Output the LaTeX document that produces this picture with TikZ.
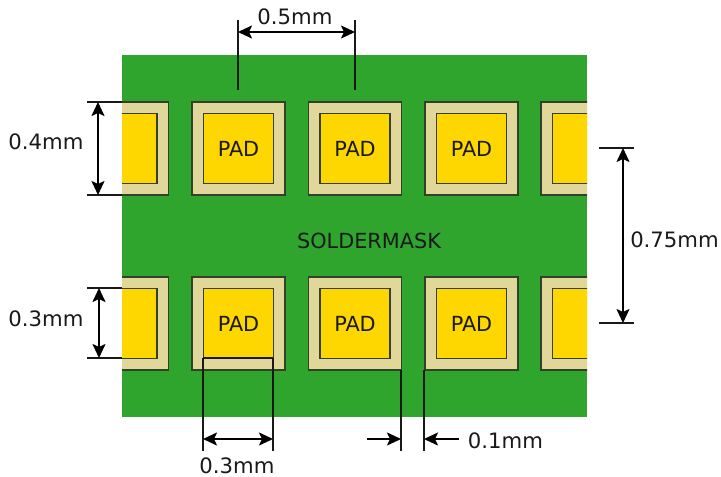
\documentclass[tikz,border=0pt]{standalone}
\usepackage{fontspec}
\setmainfont{DejaVu Sans}
\usetikzlibrary{arrows.meta}
\definecolor{boardgreen}{HTML}{2FA52E}
\definecolor{masktan}{HTML}{E2D79B}
\definecolor{padgold}{HTML}{FFD700}
\definecolor{edgedark}{HTML}{33402A}
\tikzset{
  outerpad/.style={draw=edgedark,line width=1.4pt,fill=masktan,minimum size=93pt,inner sep=0pt,outer sep=0pt},
  innerpad/.style={draw=edgedark,line width=1.4pt,fill=padgold,minimum size=70pt,inner sep=0pt,outer sep=0pt},
  dimtext/.style={font=\fontsize{21.2}{24}\selectfont,text=black!90,inner sep=0pt},
  padtext/.style={font=\fontsize{20.8}{24}\selectfont,text=black!90,inner sep=0pt},
  extline/.style={draw=black!90,line width=1.9pt},
  dimline/.style={draw=black,line width=1.9pt,{Stealth[length=14pt,width=13pt,inset=3pt]}-{Stealth[length=14pt,width=13pt,inset=3pt]}},
  onearrow/.style={draw=black,line width=1.9pt,-{Stealth[length=14pt,width=13pt,inset=3pt]}},
}
\begin{document}
\begin{tikzpicture}[x=1pt,y=-1pt]
\useasboundingbox (0,0) rectangle (721,477);
\node[fill=boardgreen,minimum width=465pt,minimum height=362pt,inner sep=0pt,outer sep=0pt] (board) at (354.5,236) {};
\begin{scope}
\clip (122,55) rectangle (587,417);
\foreach \n/\x in {a/122,b/238.5,c/355,d/471.5,e/587.5}{
  \node[outerpad] (o1\n) at (\x,148.5) {};
  \node[innerpad] (i1\n) at (\x,148.5) {};
  \node[outerpad] (o2\n) at (\x,323.5) {};
  \node[innerpad] (i2\n) at (\x,323.5) {};
}
\end{scope}
\foreach \n in {b,c,d}{
  \node[padtext] at (i1\n) {PAD};
  \node[padtext] at (i2\n) {PAD};
}
\node[padtext] (mask) at (369,240.5) {SOLDERMASK};
% 0.5mm
\coordinate (t1a) at (238,20); \coordinate (t1b) at (238,90);
\coordinate (t2a) at (355,20); \coordinate (t2b) at (355,90);
\coordinate (p1) at (238,32); \coordinate (p2) at (355,32);
\draw[extline] (t1a) -- (t1b);
\draw[extline] (t2a) -- (t2b);
\draw[dimline] (p1) -- (p2);
\node[dimtext] (l05) at (295,17) {0.5mm};
% 0.4mm
\coordinate (u1a) at (87,102); \coordinate (u1b) at (122,102);
\coordinate (u2a) at (87,195); \coordinate (u2b) at (122,195);
\coordinate (q1) at (98,102); \coordinate (q2) at (98,195);
\draw[extline] (u1a) -- (u1b);
\draw[extline] (u2a) -- (u2b);
\draw[dimline] (q1) -- (q2);
\node[dimtext] (l04) at (46,142) {0.4mm};
% 0.3mm left
\coordinate (v1a) at (87,288); \coordinate (v1b) at (122,288);
\coordinate (v2a) at (87,358); \coordinate (v2b) at (122,358);
\coordinate (r1) at (99,288); \coordinate (r2) at (99,358);
\draw[extline] (v1a) -- (v1b);
\draw[extline] (v2a) -- (v2b);
\draw[dimline] (r1) -- (r2);
\node[dimtext] (l03a) at (46,319) {0.3mm};
% 0.75mm
\coordinate (w1a) at (599,148); \coordinate (w1b) at (634,148);
\coordinate (w2a) at (599,323); \coordinate (w2b) at (634,323);
\coordinate (s1) at (623,148); \coordinate (s2) at (623,323);
\draw[extline] (w1a) -- (w1b);
\draw[extline] (w2a) -- (w2b);
\draw[dimline] (s1) -- (s2);
\node[dimtext] (l075) at (674.5,239.5) {0.75mm};
% 0.3mm bottom
\coordinate (x1a) at (203,358); \coordinate (x1b) at (203,451);
\coordinate (x2a) at (273,358); \coordinate (x2b) at (273,451);
\coordinate (m1) at (203,439); \coordinate (m2) at (273,439);
\draw[extline] (x1a) -- (x2a);
\draw[extline] (x1a) -- (x1b);
\draw[extline] (x2a) -- (x2b);
\draw[dimline] (m1) -- (m2);
\node[dimtext] (l03b) at (237,465.5) {0.3mm};
% 0.1mm
\coordinate (y1a) at (401,370); \coordinate (y1b) at (401,451);
\coordinate (y2a) at (424,370); \coordinate (y2b) at (424,451);
\coordinate (n1) at (367,439); \coordinate (n2) at (401,439);
\coordinate (n3) at (459,439); \coordinate (n4) at (424,439);
\draw[extline] (y1a) -- (y1b);
\draw[extline] (y2a) -- (y2b);
\draw[onearrow] (n1) -- (n2);
\draw[onearrow] (n3) -- (n4);
\node[dimtext] (l01) at (505.5,440.5) {0.1mm};
\end{tikzpicture}
\end{document}
